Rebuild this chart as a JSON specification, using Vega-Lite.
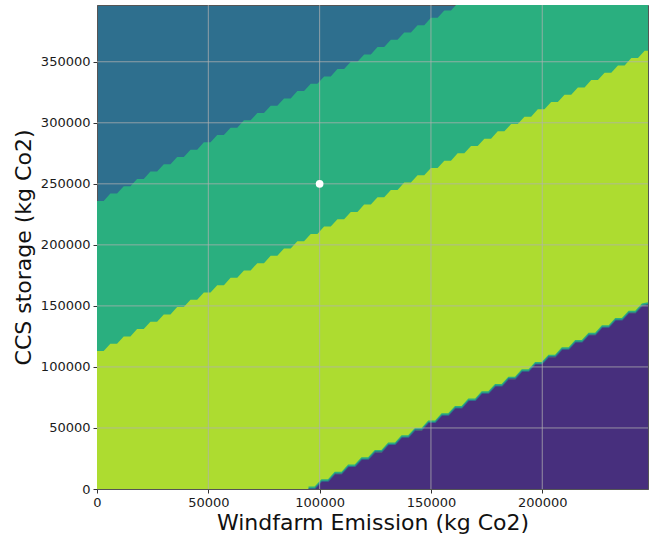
{
  "$schema": "https://vega.github.io/schema/vega-lite/v6.json",
  "width": 551,
  "height": 484,
  "autosize": {"type": "none"},
  "padding": {"left": 97, "top": 5, "right": 5, "bottom": 49},
  "background": "white",
  "config": {
    "font": "DejaVu Sans",
    "view": {"fill": "#2e6f8e", "stroke": "#555555", "strokeWidth": 1},
    "axis": {
      "format": "d",
      "labelOverlap": false,
      "labelFontSize": 13,
      "labelColor": "#1a1a1a",
      "labelPadding": 3,
      "tickSize": 4,
      "tickColor": "#333333",
      "domainColor": "#555555",
      "grid": false,
      "titleFontSize": 22,
      "titleFontWeight": "normal",
      "titleColor": "#111111",
      "zindex": 1
    },
    "axisX": {"labelFlush": false, "titlePadding": 3},
    "axisY": {"titlePadding": 5}
  },
  "datasets": {
    "upper": [
      {"emission": 0, "storage": 236000}, {"emission": 3000, "storage": 236000},
      {"emission": 6000, "storage": 242000}, {"emission": 9000, "storage": 242000},
      {"emission": 12000, "storage": 248000}, {"emission": 15000, "storage": 248000},
      {"emission": 18000, "storage": 254000}, {"emission": 21000, "storage": 254000},
      {"emission": 24000, "storage": 260000}, {"emission": 27000, "storage": 260000},
      {"emission": 30000, "storage": 266000}, {"emission": 33000, "storage": 266000},
      {"emission": 36000, "storage": 272000}, {"emission": 39000, "storage": 272000},
      {"emission": 42000, "storage": 278000}, {"emission": 45000, "storage": 278000},
      {"emission": 48000, "storage": 284000}, {"emission": 51000, "storage": 284000},
      {"emission": 54000, "storage": 290000}, {"emission": 57000, "storage": 290000},
      {"emission": 60000, "storage": 296000}, {"emission": 63000, "storage": 296000},
      {"emission": 66000, "storage": 302000}, {"emission": 69000, "storage": 302000},
      {"emission": 72000, "storage": 308000}, {"emission": 75000, "storage": 308000},
      {"emission": 78000, "storage": 314000}, {"emission": 81000, "storage": 314000},
      {"emission": 84000, "storage": 320000}, {"emission": 87000, "storage": 320000},
      {"emission": 90000, "storage": 326000}, {"emission": 93000, "storage": 326000},
      {"emission": 96000, "storage": 332000}, {"emission": 99000, "storage": 332000},
      {"emission": 102000, "storage": 338000}, {"emission": 105000, "storage": 338000},
      {"emission": 108000, "storage": 344000}, {"emission": 111000, "storage": 344000},
      {"emission": 114000, "storage": 350000}, {"emission": 117000, "storage": 350000},
      {"emission": 120000, "storage": 356000}, {"emission": 123000, "storage": 356000},
      {"emission": 126000, "storage": 362000}, {"emission": 129000, "storage": 362000},
      {"emission": 132000, "storage": 368000}, {"emission": 135000, "storage": 368000},
      {"emission": 138000, "storage": 374000}, {"emission": 141000, "storage": 374000},
      {"emission": 144000, "storage": 380000}, {"emission": 147000, "storage": 380000},
      {"emission": 150000, "storage": 386000}, {"emission": 153000, "storage": 386000},
      {"emission": 156000, "storage": 392000}, {"emission": 159000, "storage": 392000},
      {"emission": 162000, "storage": 398000}, {"emission": 165000, "storage": 398000},
      {"emission": 247500, "storage": 398000}
    ],
    "middle": [
      {"emission": 0, "storage": 113000}, {"emission": 3000, "storage": 113000},
      {"emission": 6000, "storage": 119000}, {"emission": 9000, "storage": 119000},
      {"emission": 12000, "storage": 125000}, {"emission": 15000, "storage": 125000},
      {"emission": 18000, "storage": 131000}, {"emission": 21000, "storage": 131000},
      {"emission": 24000, "storage": 137000}, {"emission": 27000, "storage": 137000},
      {"emission": 30000, "storage": 143000}, {"emission": 33000, "storage": 143000},
      {"emission": 36000, "storage": 149000}, {"emission": 39000, "storage": 149000},
      {"emission": 42000, "storage": 155000}, {"emission": 45000, "storage": 155000},
      {"emission": 48000, "storage": 161000}, {"emission": 51000, "storage": 161000},
      {"emission": 54000, "storage": 167000}, {"emission": 57000, "storage": 167000},
      {"emission": 60000, "storage": 173000}, {"emission": 63000, "storage": 173000},
      {"emission": 66000, "storage": 179000}, {"emission": 69000, "storage": 179000},
      {"emission": 72000, "storage": 185000}, {"emission": 75000, "storage": 185000},
      {"emission": 78000, "storage": 191000}, {"emission": 81000, "storage": 191000},
      {"emission": 84000, "storage": 197000}, {"emission": 87000, "storage": 197000},
      {"emission": 90000, "storage": 203000}, {"emission": 93000, "storage": 203000},
      {"emission": 96000, "storage": 209000}, {"emission": 99000, "storage": 209000},
      {"emission": 102000, "storage": 215000}, {"emission": 105000, "storage": 215000},
      {"emission": 108000, "storage": 221000}, {"emission": 111000, "storage": 221000},
      {"emission": 114000, "storage": 227000}, {"emission": 117000, "storage": 227000},
      {"emission": 120000, "storage": 233000}, {"emission": 123000, "storage": 233000},
      {"emission": 126000, "storage": 239000}, {"emission": 129000, "storage": 239000},
      {"emission": 132000, "storage": 245000}, {"emission": 135000, "storage": 245000},
      {"emission": 138000, "storage": 251000}, {"emission": 141000, "storage": 251000},
      {"emission": 144000, "storage": 257000}, {"emission": 147000, "storage": 257000},
      {"emission": 150000, "storage": 263000}, {"emission": 153000, "storage": 263000},
      {"emission": 156000, "storage": 269000}, {"emission": 159000, "storage": 269000},
      {"emission": 162000, "storage": 275000}, {"emission": 165000, "storage": 275000},
      {"emission": 168000, "storage": 281000}, {"emission": 171000, "storage": 281000},
      {"emission": 174000, "storage": 287000}, {"emission": 177000, "storage": 287000},
      {"emission": 180000, "storage": 293000}, {"emission": 183000, "storage": 293000},
      {"emission": 186000, "storage": 299000}, {"emission": 189000, "storage": 299000},
      {"emission": 192000, "storage": 305000}, {"emission": 195000, "storage": 305000},
      {"emission": 198000, "storage": 311000}, {"emission": 201000, "storage": 311000},
      {"emission": 204000, "storage": 317000}, {"emission": 207000, "storage": 317000},
      {"emission": 210000, "storage": 323000}, {"emission": 213000, "storage": 323000},
      {"emission": 216000, "storage": 329000}, {"emission": 219000, "storage": 329000},
      {"emission": 222000, "storage": 335000}, {"emission": 225000, "storage": 335000},
      {"emission": 228000, "storage": 341000}, {"emission": 231000, "storage": 341000},
      {"emission": 234000, "storage": 347000}, {"emission": 237000, "storage": 347000},
      {"emission": 240000, "storage": 353000}, {"emission": 243000, "storage": 353000},
      {"emission": 246000, "storage": 359000}, {"emission": 247500, "storage": 359000}
    ],
    "lower": [
      {"emission": 95000, "storage": 0}, {"emission": 98000, "storage": 0},
      {"emission": 101000, "storage": 6000}, {"emission": 104000, "storage": 6000},
      {"emission": 107000, "storage": 12000}, {"emission": 110000, "storage": 12000},
      {"emission": 113000, "storage": 18000}, {"emission": 116000, "storage": 18000},
      {"emission": 119000, "storage": 24000}, {"emission": 122000, "storage": 24000},
      {"emission": 125000, "storage": 30000}, {"emission": 128000, "storage": 30000},
      {"emission": 131000, "storage": 36000}, {"emission": 134000, "storage": 36000},
      {"emission": 137000, "storage": 42000}, {"emission": 140000, "storage": 42000},
      {"emission": 143000, "storage": 48000}, {"emission": 146000, "storage": 48000},
      {"emission": 149000, "storage": 54000}, {"emission": 152000, "storage": 54000},
      {"emission": 155000, "storage": 60000}, {"emission": 158000, "storage": 60000},
      {"emission": 161000, "storage": 66000}, {"emission": 164000, "storage": 66000},
      {"emission": 167000, "storage": 72000}, {"emission": 170000, "storage": 72000},
      {"emission": 173000, "storage": 78000}, {"emission": 176000, "storage": 78000},
      {"emission": 179000, "storage": 84000}, {"emission": 182000, "storage": 84000},
      {"emission": 185000, "storage": 90000}, {"emission": 188000, "storage": 90000},
      {"emission": 191000, "storage": 96000}, {"emission": 194000, "storage": 96000},
      {"emission": 197000, "storage": 102000}, {"emission": 200000, "storage": 102000},
      {"emission": 203000, "storage": 108000}, {"emission": 206000, "storage": 108000},
      {"emission": 209000, "storage": 114000}, {"emission": 212000, "storage": 114000},
      {"emission": 215000, "storage": 120000}, {"emission": 218000, "storage": 120000},
      {"emission": 221000, "storage": 126000}, {"emission": 224000, "storage": 126000},
      {"emission": 227000, "storage": 132000}, {"emission": 230000, "storage": 132000},
      {"emission": 233000, "storage": 138000}, {"emission": 236000, "storage": 138000},
      {"emission": 239000, "storage": 144000}, {"emission": 242000, "storage": 144000},
      {"emission": 245000, "storage": 150000}, {"emission": 247500, "storage": 151000}
    ],
    "gridX": [
      {"emission": 50000}, {"emission": 100000}, {"emission": 150000}, {"emission": 200000}
    ],
    "gridY": [
      {"storage": 50000}, {"storage": 100000}, {"storage": 150000}, {"storage": 200000},
      {"storage": 250000}, {"storage": 300000}, {"storage": 350000}
    ],
    "marker": [{"emission": 100000, "storage": 250000}]
  },
  "layer": [
    {
      "data": {"name": "upper"},
      "mark": {"type": "area", "color": "#2aaf7f", "opacity": 1, "clip": true},
      "encoding": {
        "x": {
          "field": "emission",
          "type": "quantitative",
          "title": "Windfarm Emission (kg Co2)",
          "scale": {"domain": [0, 247500], "nice": false, "zero": false},
          "axis": {"values": [0, 50000, 100000, 150000, 200000]}
        },
        "y": {
          "field": "storage",
          "type": "quantitative",
          "title": "CCS storage (kg Co2)",
          "scale": {"domain": [0, 396500], "nice": false, "zero": true},
          "axis": {"values": [0, 50000, 100000, 150000, 200000, 250000, 300000, 350000]}
        }
      }
    },
    {
      "data": {"name": "middle"},
      "mark": {"type": "area", "color": "#addc30", "opacity": 1, "clip": true},
      "encoding": {
        "x": {"field": "emission", "type": "quantitative", "title": "Windfarm Emission (kg Co2)"},
        "y": {"field": "storage", "type": "quantitative", "title": "CCS storage (kg Co2)"}
      }
    },
    {
      "data": {"name": "lower"},
      "mark": {"type": "line", "color": "#2aaf7f", "strokeWidth": 2, "yOffset": -1.5, "clip": true},
      "encoding": {
        "x": {"field": "emission", "type": "quantitative", "title": "Windfarm Emission (kg Co2)"},
        "y": {"field": "storage", "type": "quantitative", "title": "CCS storage (kg Co2)"}
      }
    },
    {
      "data": {"name": "lower"},
      "mark": {"type": "line", "color": "#2e6f8e", "strokeWidth": 1.5, "yOffset": -0.3, "clip": true},
      "encoding": {
        "x": {"field": "emission", "type": "quantitative", "title": "Windfarm Emission (kg Co2)"},
        "y": {"field": "storage", "type": "quantitative", "title": "CCS storage (kg Co2)"}
      }
    },
    {
      "data": {"name": "lower"},
      "mark": {"type": "area", "color": "#472f7d", "opacity": 1, "clip": true},
      "encoding": {
        "x": {"field": "emission", "type": "quantitative", "title": "Windfarm Emission (kg Co2)"},
        "y": {"field": "storage", "type": "quantitative", "title": "CCS storage (kg Co2)"}
      }
    },
    {
      "data": {"name": "gridX"},
      "mark": {"type": "rule", "color": "#b0b0b0", "opacity": 0.75, "strokeWidth": 1},
      "encoding": {
        "x": {"field": "emission", "type": "quantitative", "title": "Windfarm Emission (kg Co2)"}
      }
    },
    {
      "data": {"name": "gridY"},
      "mark": {"type": "rule", "color": "#b0b0b0", "opacity": 0.75, "strokeWidth": 1},
      "encoding": {
        "y": {"field": "storage", "type": "quantitative", "title": "CCS storage (kg Co2)"}
      }
    },
    {
      "data": {"name": "marker"},
      "mark": {"type": "circle", "color": "white", "opacity": 1, "size": 60},
      "encoding": {
        "x": {"field": "emission", "type": "quantitative", "title": "Windfarm Emission (kg Co2)"},
        "y": {"field": "storage", "type": "quantitative", "title": "CCS storage (kg Co2)"}
      }
    }
  ]
}
